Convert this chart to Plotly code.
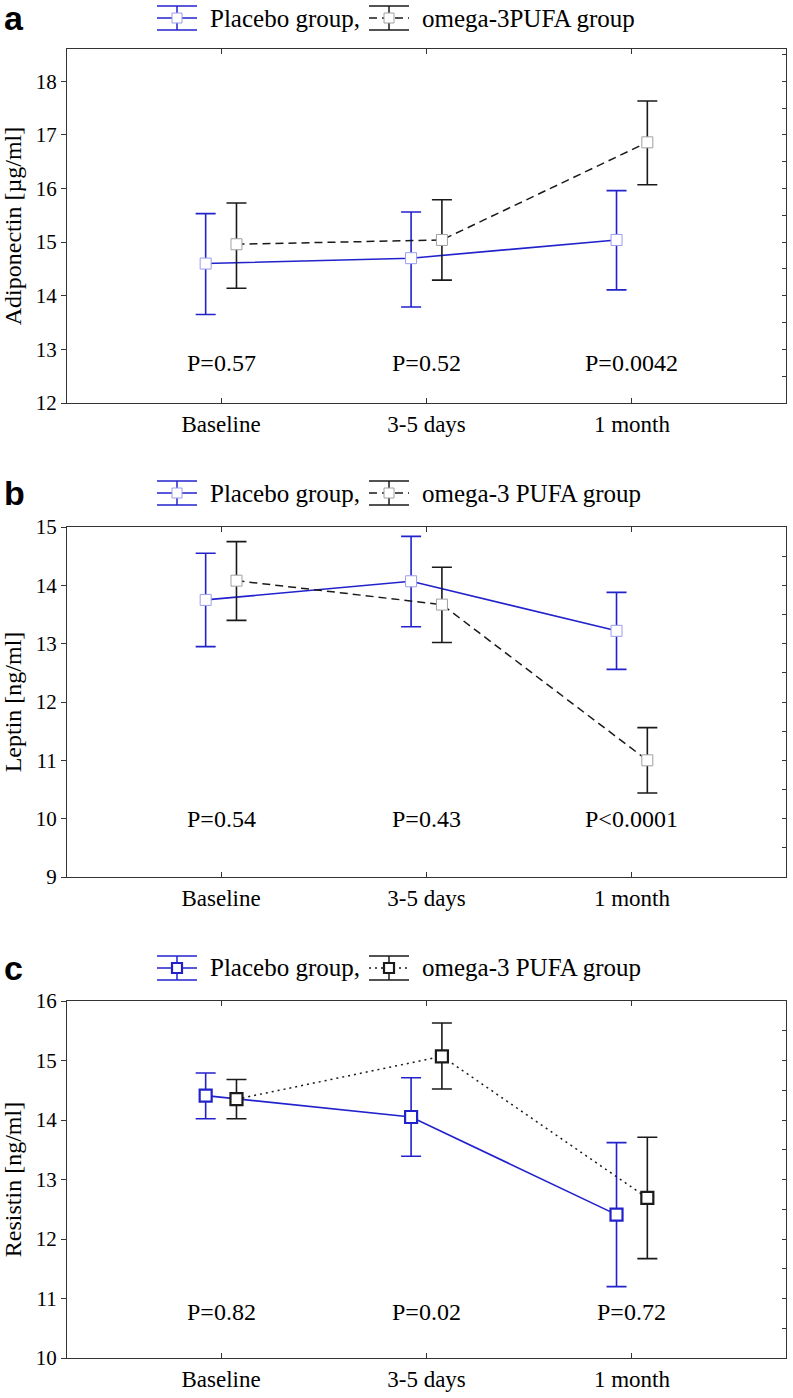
import plotly.graph_objects as go

# ---------------- data ----------------
categories = ["Baseline", "3-5 days", "1 month"]

# Panel a: Adiponectin [ug/ml]
adipo_placebo_mean = [14.60, 14.70, 15.04]
adipo_placebo_upper = [15.53, 15.56, 15.96]
adipo_placebo_lower = [13.65, 13.79, 14.11]
adipo_omega_mean = [14.96, 15.04, 16.86]
adipo_omega_upper = [15.73, 15.79, 17.63]
adipo_omega_lower = [14.14, 14.29, 16.07]
adipo_p = ["P=0.57", "P=0.52", "P=0.0042"]

# Panel b: Leptin [ng/ml]
leptin_placebo_mean = [13.75, 14.07, 13.22]
leptin_placebo_upper = [14.55, 14.84, 13.88]
leptin_placebo_lower = [12.95, 13.29, 12.56]
leptin_omega_mean = [14.08, 13.67, 11.00]
leptin_omega_upper = [14.75, 14.31, 11.56]
leptin_omega_lower = [13.40, 13.02, 10.44]
leptin_p = ["P=0.54", "P=0.43", "P<0.0001"]

# Panel c: Resistin [ng/ml]
resistin_placebo_mean = [14.41, 14.05, 12.41]
resistin_placebo_upper = [14.79, 14.71, 13.62]
resistin_placebo_lower = [14.02, 13.39, 11.20]
resistin_omega_mean = [14.35, 15.07, 12.69]
resistin_omega_upper = [14.68, 15.63, 13.71]
resistin_omega_lower = [14.02, 14.52, 11.67]
resistin_p = ["P=0.82", "P=0.02", "P=0.72"]

# ---------------- layout constants ----------------
W, H = 793, 1398
ML, MR = 67, 7
PW = W - ML - MR
XR = [-0.75, 2.75]
OFF = 0.075
BLUE = "#2222cc"
BLACK = "#1a1a1a"
SERIF = "Liberation Serif"
DASH = {"dash": "8px,5px", "dot": "2px,4px"}

def px_x(px):
    return (px - ML) / PW

def px_y(py):
    return (H - py) / H

panels = [
    dict(letter="a", title="Adiponectin [µg/ml]", yr=[12, 18.6], top=49, bot=403, leg=18,
         pm=adipo_placebo_mean, pu=adipo_placebo_upper, pl=adipo_placebo_lower,
         om=adipo_omega_mean, ou=adipo_omega_upper, ol=adipo_omega_lower,
         p=adipo_p, py=12.75, dash="dash", style="light",
         leg1="Placebo group,", leg2="omega-3PUFA group"),
    dict(letter="b", title="Leptin [ng/ml]", yr=[9, 15], top=527, bot=877, leg=493,
         pm=leptin_placebo_mean, pu=leptin_placebo_upper, pl=leptin_placebo_lower,
         om=leptin_omega_mean, ou=leptin_omega_upper, ol=leptin_omega_lower,
         p=leptin_p, py=10.0, dash="dash", style="light",
         leg1="Placebo group,", leg2="omega-3 PUFA group"),
    dict(letter="c", title="Resistin [ng/ml]", yr=[10, 16], top=1001, bot=1358, leg=968,
         pm=resistin_placebo_mean, pu=resistin_placebo_upper, pl=resistin_placebo_lower,
         om=resistin_omega_mean, ou=resistin_omega_upper, ol=resistin_omega_lower,
         p=resistin_p, py=10.78, dash="dot", style="bold",
         leg1="Placebo group,", leg2="omega-3 PUFA group"),
]

fig = go.Figure()
shapes = []
annotations = []
layout = {}

for i, P in enumerate(panels):
    n = i + 1
    xa = "x" if n == 1 else f"x{n}"
    ya = "y" if n == 1 else f"y{n}"
    yr_name = f"y{n + 3}"
    xpos = [k for k in range(len(categories))]
    if P["style"] == "light":
        mk_b = dict(symbol="square", size=11, color="white", line=dict(color="#9c9cf0", width=1))
        mk_k = dict(symbol="square", size=11, color="white", line=dict(color="#a0a0a0", width=1))
    else:
        mk_b = dict(symbol="square", size=12, color="white", line=dict(color=BLUE, width=2.2))
        mk_k = dict(symbol="square", size=12, color="white", line=dict(color=BLACK, width=2.2))

    err_b = dict(type="data", symmetric=False,
                 array=[u - m for u, m in zip(P["pu"], P["pm"])],
                 arrayminus=[m - l for m, l in zip(P["pm"], P["pl"])],
                 color=BLUE, thickness=1.6, width=10)
    err_k = dict(type="data", symmetric=False,
                 array=[u - m for u, m in zip(P["ou"], P["om"])],
                 arrayminus=[m - l for m, l in zip(P["om"], P["ol"])],
                 color=BLACK, thickness=1.6, width=10)

    fig.add_trace(go.Scatter(
        x=[v - OFF for v in xpos], y=P["pm"], mode="lines+markers",
        line=dict(color=BLUE, width=1.6), marker=mk_b, error_y=err_b,
        xaxis=xa, yaxis=ya, showlegend=False, name="Placebo group"))
    fig.add_trace(go.Scatter(
        x=[v + OFF for v in xpos], y=P["om"], mode="lines+markers",
        line=dict(color=BLACK, width=1.5, dash=DASH[P["dash"]]), marker=mk_k, error_y=err_k,
        xaxis=xa, yaxis=ya, showlegend=False, name="omega-3 PUFA group"))
    # carrier for right-side tick axis
    fig.add_trace(go.Scatter(x=[], y=[], xaxis=xa, yaxis=yr_name, showlegend=False, hoverinfo="skip"))

    ydom = [px_y(P["bot"]), px_y(P["top"])]
    layout[f"xaxis{'' if n == 1 else n}"] = dict(
        domain=[0, 1], anchor=ya, range=XR,
        tickvals=xpos, ticktext=categories,
        ticks="inside", ticklen=5, tickcolor="#333", tickwidth=1,
        showline=True, linecolor="#333", linewidth=1.3, mirror="ticks",
        showgrid=False, zeroline=False,
        tickfont=dict(family=SERIF, size=23, color="black"))
    layout[f"yaxis{'' if n == 1 else n}"] = dict(
        domain=ydom, anchor=xa, range=P["yr"], dtick=1,
        ticks="outside", ticklen=5, tickcolor="#333", tickwidth=1,
        showline=True, linecolor="#333", linewidth=1.3, mirror=True,
        showgrid=False, zeroline=False,
        tickfont=dict(family=SERIF, size=21, color="black"),
        title=dict(text=P["title"], font=dict(family=SERIF, size=24, color="black"), standoff=10))
    layout[f"yaxis{n + 3}"] = dict(
        overlaying=ya, anchor=xa, side="right", range=P["yr"], dtick=0.5,
        ticks="inside", ticklen=4, tickcolor="#333", tickwidth=1,
        showticklabels=False, showgrid=False, zeroline=False, showline=False)

    # P-value labels
    for k, txt in enumerate(P["p"]):
        annotations.append(dict(x=xpos[k], y=P["py"], xref=xa, yref=ya, text=txt,
                                showarrow=False, xanchor="center", yanchor="middle",
                                font=dict(family=SERIF, size=24, color="black")))

    # panel letter
    annotations.append(dict(x=px_x(2), y=px_y(P["leg"]), xref="paper", yref="paper",
                            text=f"<b>{P['letter']}</b>", showarrow=False,
                            xanchor="left", yanchor="middle",
                            font=dict(family="Liberation Sans", size=34, color="black")))

    # manual legend (error-bar icons + text)
    cy = P["leg"]
    for cx, col, dash, mcol, mlw, label, tx in [
        (177, BLUE, "solid", mk_b["line"]["color"], mk_b["line"]["width"], P["leg1"], 208),
        (389, BLACK, DASH[P["dash"]], mk_k["line"]["color"], mk_k["line"]["width"], P["leg2"], 420),
    ]:
        hw, hh, ms = 20, 12, 5
        shapes.append(dict(type="line", xref="paper", yref="paper",
                           x0=px_x(cx - hw), x1=px_x(cx + hw), y0=px_y(cy), y1=px_y(cy),
                           line=dict(color=col, width=1.5, dash=dash)))
        shapes.append(dict(type="line", xref="paper", yref="paper",
                           x0=px_x(cx), x1=px_x(cx), y0=px_y(cy - hh), y1=px_y(cy + hh),
                           line=dict(color=col, width=1.5)))
        for dy in (-hh, hh):
            shapes.append(dict(type="line", xref="paper", yref="paper",
                               x0=px_x(cx - hw), x1=px_x(cx + hw), y0=px_y(cy + dy), y1=px_y(cy + dy),
                               line=dict(color=col, width=1.5)))
        shapes.append(dict(type="rect", xref="paper", yref="paper",
                           x0=px_x(cx - ms), x1=px_x(cx + ms), y0=px_y(cy + ms), y1=px_y(cy - ms),
                           fillcolor="white", line=dict(color=mcol, width=mlw)))
        annotations.append(dict(x=px_x(tx), y=px_y(cy), xref="paper", yref="paper",
                                text=label, showarrow=False, xanchor="left", yanchor="middle",
                                font=dict(family=SERIF, size=25, color="black")))

fig.update_layout(
    width=W, height=H,
    margin=dict(l=ML, r=MR, t=0, b=0, autoexpand=False),
    paper_bgcolor="white", plot_bgcolor="white",
    showlegend=False,
    shapes=shapes, annotations=annotations,
    **layout)

fig.write_html("out.html", config={"displayModeBar": False},
               post_script="document.body.style.margin='0';")
